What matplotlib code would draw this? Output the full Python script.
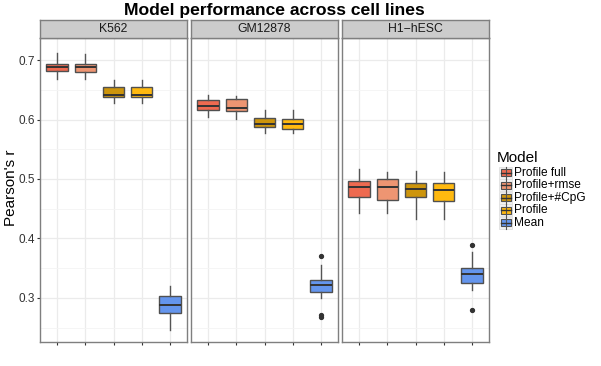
import matplotlib
matplotlib.use('Agg')
import matplotlib.pyplot as plt
from matplotlib.patches import Rectangle
from matplotlib.lines import Line2D

plt.rcParams['font.family'] = ['Liberation Sans', 'DejaVu Sans']

cell_lines = ['K562', 'GM12878', 'H1\u2212hESC']
models = ['Profile full', 'Profile+rmse', 'Profile+#CpG', 'Profile', 'Mean']
colors = ['#EE6A50', '#EE9572', '#CD950C', '#FFB90F', '#6495ED']

# box statistics per cell line (order follows models)
k562_med = [0.688, 0.689, 0.642, 0.642, 0.289]
k562_q1 = [0.681, 0.680, 0.637, 0.637, 0.274]
k562_q3 = [0.694, 0.694, 0.655, 0.654, 0.304]
k562_lo = [0.668, 0.668, 0.628, 0.627, 0.246]
k562_hi = [0.712, 0.710, 0.666, 0.666, 0.320]
k562_out = [[], [], [], [], []]

gm_med = [0.623, 0.619, 0.592, 0.592, 0.321]
gm_q1 = [0.616, 0.614, 0.587, 0.584, 0.310]
gm_q3 = [0.633, 0.634, 0.602, 0.601, 0.330]
gm_lo = [0.605, 0.601, 0.577, 0.578, 0.300]
gm_hi = [0.641, 0.639, 0.616, 0.616, 0.355]
gm_out = [[], [], [], [], [0.371, 0.271, 0.268]]

h1_med = [0.487, 0.486, 0.483, 0.481, 0.340]
h1_q1 = [0.470, 0.465, 0.469, 0.463, 0.325]
h1_q3 = [0.497, 0.500, 0.494, 0.494, 0.350]
h1_lo = [0.442, 0.442, 0.433, 0.432, 0.313]
h1_hi = [0.517, 0.512, 0.514, 0.511, 0.377]
h1_out = [[], [], [], [], [0.389, 0.279]]

stats_by_line = [
    (k562_med, k562_q1, k562_q3, k562_lo, k562_hi, k562_out),
    (gm_med, gm_q1, gm_q3, gm_lo, gm_hi, gm_out),
    (h1_med, h1_q1, h1_q3, h1_lo, h1_hi, h1_out),
]

W, H = 601, 366
fig = plt.figure(figsize=(W / 100, H / 100), dpi=100)

panel_x = [40, 191, 342]
panel_w = 147
top, bottom = 38, 342
strip_top = 20

edge = '#505050'
for i, (name, st) in enumerate(zip(cell_lines, stats_by_line)):
    x0 = panel_x[i]
    ax = fig.add_axes([x0 / W, 1 - bottom / H, panel_w / W, (bottom - top) / H])
    med, q1, q3, lo, hi, out = st
    bstats = []
    for j in range(len(models)):
        bstats.append(dict(med=med[j], q1=q1[j], q3=q3[j], whislo=lo[j],
                           whishi=hi[j], fliers=out[j], label=models[j]))
    pos = list(range(1, len(models) + 1))
    bp = ax.bxp(bstats, positions=pos, widths=0.75, patch_artist=True,
                showcaps=False,
                boxprops=dict(linewidth=1.0, edgecolor=edge),
                medianprops=dict(color='#333333', linewidth=1.4),
                whiskerprops=dict(color='#555555', linewidth=1.0),
                flierprops=dict(marker='o', markersize=2.8, markerfacecolor='#333333',
                                markeredgecolor='#333333'),
                zorder=3)
    for patch, c in zip(bp['boxes'], colors):
        patch.set_facecolor(c)
    ax.set_xlim(0.4, 5.6)
    ax.set_ylim(0.226, 0.737)
    ax.set_yticks([0.3, 0.4, 0.5, 0.6, 0.7])
    ax.set_yticks([0.25, 0.35, 0.45, 0.55, 0.65], minor=True)
    ax.set_xticks(pos)
    ax.set_xticklabels([])
    ax.grid(True, which='major', color='#EBEBEB', linewidth=0.9, zorder=0)
    ax.grid(True, which='minor', axis='y', color='#F4F4F4', linewidth=0.6, zorder=0)
    ax.set_axisbelow(True)
    for s in ax.spines.values():
        s.set_color('#7F7F7F')
        s.set_linewidth(1.0)
    ax.tick_params(axis='both', which='major', length=2.4, color='#333333', width=0.8,
                   labelsize=8.5, labelcolor='#333333', pad=1)
    ax.tick_params(axis='y', which='minor', length=0)
    if i == 0:
        ax.set_yticklabels(['0.3', '0.4', '0.5', '0.6', '0.7'])
    else:
        ax.tick_params(axis='y', which='major', left=False, labelleft=False)
    # strip
    sax = fig.add_axes([x0 / W, 1 - top / H, panel_w / W, (top - strip_top) / H])
    sax.set_facecolor('#CCCCCC')
    sax.set_xticks([])
    sax.set_yticks([])
    for s in sax.spines.values():
        s.set_color('#7F7F7F')
        s.set_linewidth(1.0)
    sax.text(0.5, 0.5, name, ha='center', va='center', fontsize=8.8, color='#1A1A1A',
             transform=sax.transAxes)

fig.text(274 / W, 1 - 11 / H, 'Model performance across cell lines', ha='center',
         va='center', fontsize=12.6, fontweight='bold')
fig.text(11 / W, 1 - 187.5 / H, "Pearson's r", rotation=90, ha='center', va='center',
         fontsize=11)

# legend
lax = fig.add_axes([0, 0, 1, 1], facecolor='none')
lax.set_xlim(0, W)
lax.set_ylim(H, 0)
lax.axis('off')
lax.text(497, 158, 'Model', fontsize=11, ha='left', va='center')
key_y = [172.7, 185.2, 197.7, 210.2, 222.7]
for c, m, y in zip(colors, models, key_y):
    lax.add_patch(Rectangle((499, y - 6.2), 13, 12.4, facecolor='#F2F2F2',
                            edgecolor='#E0E0E0', linewidth=0.6))
    lax.add_line(Line2D([505.5, 505.5], [y - 6, y + 6], color='#555555', linewidth=0.8))
    lax.add_patch(Rectangle((500.5, y - 3.5), 10, 7, facecolor=c, edgecolor=edge,
                            linewidth=0.8))
    lax.add_line(Line2D([500.5, 510.5], [y, y], color='#333333', linewidth=1.0))
    lax.text(514, y, m, fontsize=8.6, ha='left', va='center')

fig.savefig('out.png', dpi=100)
